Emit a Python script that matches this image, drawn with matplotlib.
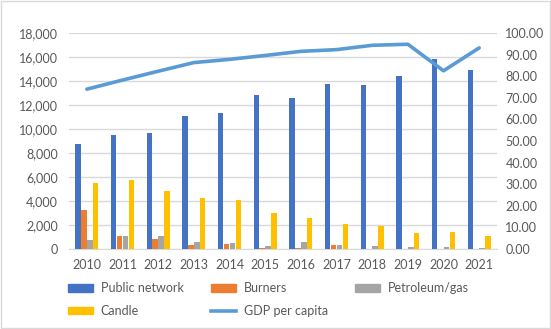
import numpy as np
import matplotlib.pyplot as plt
from matplotlib.patches import Patch
from matplotlib.lines import Line2D

years = ["2010", "2011", "2012", "2013", "2014", "2015", "2016", "2017", "2018", "2019", "2020", "2021"]
public_network = [8750, 9500, 9700, 11100, 11350, 12800, 12600, 13750, 13650, 14450, 15850, 14900]
burners = [3250, 1050, 850, 300, 380, 60, 60, 320, 20, 10, 10, 10]
petroleum_gas = [780, 1050, 1060, 600, 470, 290, 560, 370, 290, 200, 130, 80]
candle = [5500, 5750, 4800, 4250, 4050, 3000, 2600, 2080, 1950, 1300, 1450, 1050]
gdp_per_capita = [74.0, 78.2, 82.3, 86.3, 87.8, 89.6, 91.5, 92.3, 94.3, 94.8, 82.5, 93.1]

txt = "#595959"
plt.rcParams['font.family'] = ['Lato', 'DejaVu Sans']

fig = plt.figure(figsize=(5.51, 3.29), dpi=100)
ax = fig.add_axes([69 / 551, 1 - 249 / 329, 428 / 551, 216 / 329])
ax2 = ax.twinx()

x = np.arange(len(years))
w = 0.155
series = [
    (public_network, "#4472C4", "Public network"),
    (burners, "#ED7D31", "Burners"),
    (petroleum_gas, "#A5A5A5", "Petroleum/gas"),
    (candle, "#FFC000", "Candle"),
]
for i, (vals, col, lab) in enumerate(series):
    ax.bar(x + (i - 1.5) * (w + 0.01), vals, width=w, color=col, zorder=3)

ax2.plot(x, gdp_per_capita, color="#5B9BD5", linewidth=2.6, solid_capstyle="round", zorder=4)

ax.set_xlim(-0.5, len(years) - 0.5)
ax.set_ylim(0, 18000)
ax.set_yticks(range(0, 18001, 2000))
ax.set_yticklabels([f"{v:,}" for v in range(0, 18001, 2000)])
ax2.set_ylim(0, 100)
ax2.set_yticks(range(0, 101, 10))
ax2.set_yticklabels([f"{v:.2f}" for v in range(0, 101, 10)])
ax.set_xticks(x)
ax.set_xticklabels(years)

ax.grid(axis="y", color="#D9D9D9", linewidth=1, zorder=0)
for a in (ax, ax2):
    for s in a.spines.values():
        s.set_visible(False)
    a.tick_params(length=0, labelsize=9, colors=txt)
ax.spines["bottom"].set_visible(True)
ax.spines["bottom"].set_color("#D9D9D9")
ax.tick_params(axis="x", pad=7)
ax.tick_params(axis="y", pad=8)
ax2.tick_params(axis="y", pad=6)

gdp_handle = Line2D([0], [0], color="#5B9BD5", linewidth=2.6, label="GDP per capita")
bar_handles = [Patch(color=c, label=l) for _, c, l in series]
# fig.legend fills column by column: col1 = PN/Candle, col2 = Burners/GDP, col3 = Petroleum
order = [bar_handles[0], bar_handles[3], bar_handles[1], gdp_handle, bar_handles[2]]
fig.legend(handles=order, loc="upper left", bbox_to_anchor=(57 / 551, 1 - 271 / 329),
           ncol=3, frameon=False, fontsize=9, labelcolor=txt, handlelength=2.0,
           handleheight=0.6, columnspacing=2.2, handletextpad=0.6, labelspacing=0.85)

fig.patches.append(plt.Rectangle((0.002, 0.003), 0.996, 0.994, transform=fig.transFigure,
                                 fill=False, edgecolor="#D9D9D9", linewidth=1))
fig.savefig("out.png", dpi=100)
